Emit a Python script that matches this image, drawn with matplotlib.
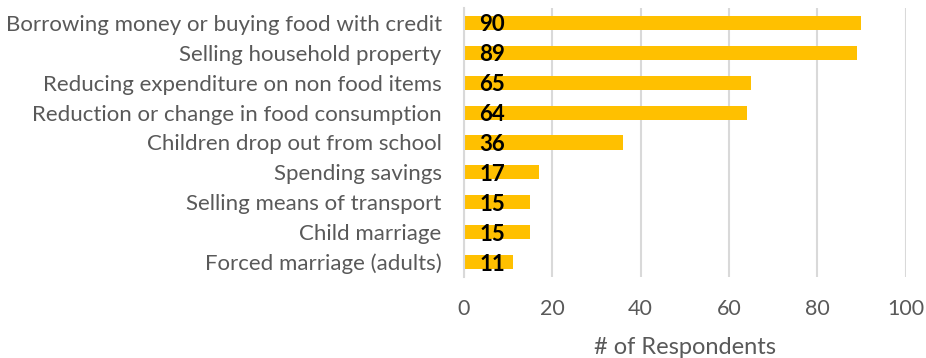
import matplotlib.pyplot as plt

categories = [
    "Borrowing money or buying food with credit",
    "Selling household property",
    "Reducing expenditure on non food items",
    "Reduction or change in food consumption",
    "Children drop out from school",
    "Spending savings",
    "Selling means of transport",
    "Child marriage",
    "Forced marriage (adults)",
]
respondents = [90, 89, 65, 64, 36, 17, 15, 15, 11]
x_ticks = [0, 20, 40, 60, 80, 100]

BAR_COLOR = "#FFC000"
GRID_COLOR = "#D9D9D9"
TEXT_COLOR = "#595959"

plt.rcParams["font.family"] = ["Lato", "DejaVu Sans"]

fig = plt.figure(figsize=(9.26, 3.58), dpi=100)
ax = fig.add_axes([0.501, 0.226, 0.477, 0.752])

y = list(range(len(categories)))
ax.barh(y, respondents, height=0.47, color=BAR_COLOR, zorder=2)

# value labels sit just inside the base of each bar
for yi, v in zip(y, respondents):
    ax.annotate(str(v), xy=(0, yi), xytext=(11, -1.5), textcoords="offset points",
                ha="left", va="center", fontsize=16, fontweight="bold",
                color="black", zorder=3)

ax.set_ylim(len(categories) - 0.5, -0.5)
ax.set_xlim(0, 100)
ax.set_yticks(y)
ax.set_yticklabels(categories, fontsize=16, color=TEXT_COLOR)
ax.set_xticks(x_ticks)
ax.tick_params(axis="x", labelsize=15.5, colors=TEXT_COLOR, length=0, pad=16)
ax.tick_params(axis="y", length=0, pad=16)

ax.grid(axis="x", color=GRID_COLOR, linewidth=1.5, zorder=0)
for side in ("top", "right", "bottom"):
    ax.spines[side].set_visible(False)
ax.spines["left"].set_color(GRID_COLOR)
ax.spines["left"].set_linewidth(1.5)

ax.set_xlabel("# of Respondents", fontsize=17, color=TEXT_COLOR, labelpad=13)

fig.savefig("out.png", dpi=100)
